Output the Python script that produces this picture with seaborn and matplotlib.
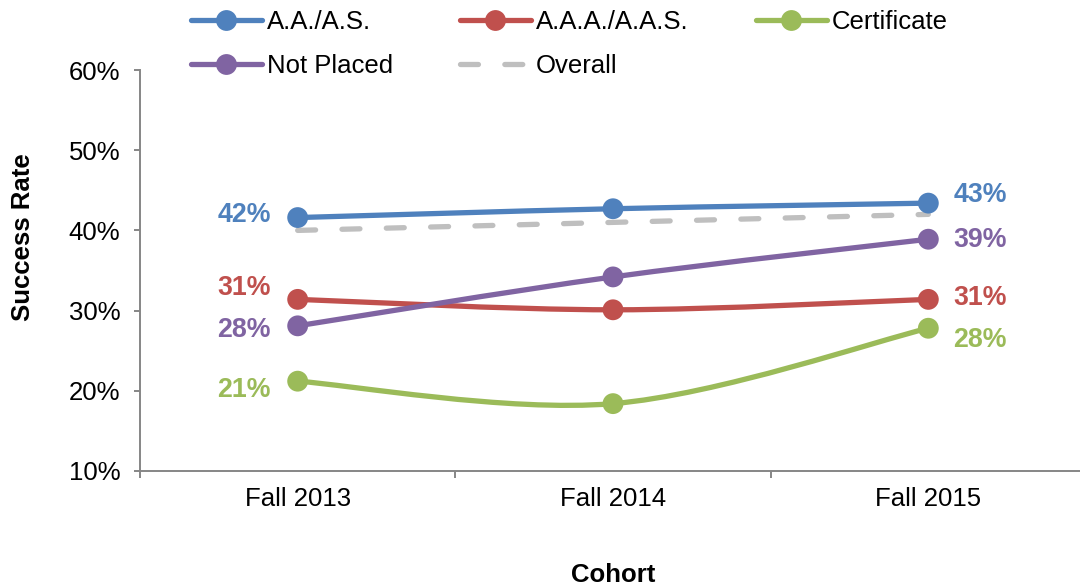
import numpy as np
import pandas as pd
import matplotlib
matplotlib.use("Agg")
import matplotlib.pyplot as plt
import seaborn as sns
from matplotlib.path import Path
from matplotlib.patches import PathPatch
from matplotlib.lines import Line2D

# ---------------- data ----------------
cohorts = ["Fall 2013", "Fall 2014", "Fall 2015"]
aa_as = [0.416, 0.427, 0.434]
aaa_aas = [0.314, 0.301, 0.314]
certificate = [0.212, 0.184, 0.278]
not_placed = [0.281, 0.342, 0.389]
overall = [0.400, 0.410, 0.420]
series_names = ["A.A./A.S.", "A.A.A./A.A.S.", "Certificate", "Not Placed", "Overall"]
y_ticks = [0.1, 0.2, 0.3, 0.4, 0.5, 0.6]

values = dict(zip(series_names, [aa_as, aaa_aas, certificate, not_placed, overall]))
df = pd.DataFrame(
    [(s, c, v) for s in series_names for c, v in zip(cohorts, values[s])],
    columns=["Series", "Cohort", "Rate"],
)

# ---------------- style ----------------
colors = {
    "A.A./A.S.": "#4F81BD",
    "A.A.A./A.A.S.": "#C0504D",
    "Certificate": "#9BBB59",
    "Not Placed": "#8064A2",
    "Overall": "#BFBFBF",
}
# label offsets in pixels (dy) for first / last point
left_dy = {"A.A./A.S.": 3, "A.A.A./A.A.S.": 11, "Certificate": -9, "Not Placed": -4}
right_dy = {"A.A./A.S.": 8, "A.A.A./A.A.S.": 1, "Certificate": -12, "Not Placed": -1}

sns.set_theme(style="white")
plt.rcParams["font.family"] = ["Liberation Sans", "DejaVu Sans"]
plt.rcParams["text.color"] = "black"
plt.rcParams["axes.labelcolor"] = "black"
FS = 18.5
LW = 3.8
MS = 15
SPINE = "#868686"
DASH = (0, (3.4, 5.0))

fig = plt.figure(figsize=(10.8, 5.86), dpi=100)
ax = fig.add_axes([140 / 1080, 1 - 471 / 586, 946 / 1080, 401 / 586])

# markers via seaborn
marker_df = df[df["Series"] != "Overall"]
sns.scatterplot(data=marker_df, x="Cohort", y="Rate", hue="Series", palette=colors,
                s=MS ** 2, edgecolor="none", legend=False, ax=ax, zorder=5)


def smooth_path(ys):
    """Excel-like smoothed line as cubic Bezier segments through the data."""
    xs = np.arange(len(ys), dtype=float)
    pts = np.column_stack([xs, np.asarray(ys, dtype=float)])
    verts = [pts[0]]
    codes = [Path.MOVETO]
    n = len(pts)
    for i in range(n - 1):
        p0 = pts[i - 1] if i > 0 else pts[i]
        p1 = pts[i]
        p2 = pts[i + 1]
        p3 = pts[i + 2] if i + 2 < n else pts[i + 1]
        c1 = p1 + (p2 - p0) / 6.0
        c2 = p2 - (p3 - p1) / 6.0
        verts += [c1, c2, p2]
        codes += [Path.CURVE4] * 3
    return Path(verts, codes)


for name in series_names:
    if name == "Overall":
        patch = PathPatch(smooth_path(values[name]), facecolor="none", edgecolor=colors[name],
                          lw=LW, linestyle=DASH, capstyle="round", zorder=2)
    else:
        patch = PathPatch(smooth_path(values[name]), facecolor="none", edgecolor=colors[name],
                          lw=LW, capstyle="round", joinstyle="round", zorder=3)
    ax.add_patch(patch)

# data labels
for name in series_names:
    if name == "Overall":
        continue
    v = values[name]
    ax.annotate(f"{v[0]:.0%}", xy=(0, v[0]), xytext=(-27 * 0.72, left_dy[name] * 0.72),
                textcoords="offset points", ha="right", va="center", fontsize=FS + 0.8,
                fontweight="bold", color=colors[name], zorder=6)
    ax.annotate(f"{v[-1]:.0%}", xy=(len(v) - 1, v[-1]), xytext=(25 * 0.72, right_dy[name] * 0.72),
                textcoords="offset points", ha="left", va="center", fontsize=FS + 0.8,
                fontweight="bold", color=colors[name], zorder=6)

# axes
ax.set_xlim(-0.5, len(cohorts) - 0.5)
ax.set_ylim(y_ticks[0], y_ticks[-1])
ax.set_yticks(y_ticks)
ax.set_yticklabels([f"{t:.0%}" for t in y_ticks])
ax.set_xticks(range(len(cohorts)))
ax.set_xticklabels(cohorts)
ax.set_xticks(np.arange(-0.5, len(cohorts), 1.0), minor=True)
ax.tick_params(axis="x", which="major", length=0, pad=11.5, labelsize=FS, colors="black")
ax.tick_params(axis="x", which="minor", length=5, width=1.4, color=SPINE, direction="out", bottom=True)
ax.tick_params(axis="y", which="major", length=4.3, width=1.4, color=SPINE, direction="out",
               left=True, pad=10, labelsize=FS, labelcolor="black")
for s in ["top", "right"]:
    ax.spines[s].set_visible(False)
for s in ["left", "bottom"]:
    ax.spines[s].set_color(SPINE)
    ax.spines[s].set_linewidth(1.4)
ax.grid(False)

ax.set_xlabel("Cohort", fontsize=FS, fontweight="bold", color="black")
ax.set_ylabel("Success Rate", fontsize=FS, fontweight="bold", color="black")
ax.xaxis.set_label_coords(0.5, -0.230)
ax.yaxis.set_label_coords(-0.111, 0.584)


# legend (column-major order to get row-wise layout)
def handle(name):
    if name == "Overall":
        return Line2D([], [], color=colors[name], lw=LW, linestyle=DASH,
                      dash_capstyle="round")
    return Line2D([], [], color=colors[name], lw=LW, marker="o", markersize=MS,
                  markeredgewidth=0, solid_capstyle="round")


order = ["A.A./A.S.", "Not Placed", "A.A.A./A.A.S.", "Overall", "Certificate"]
leg = fig.legend([handle(n) for n in order], order, loc="upper left",
                 bbox_to_anchor=(188 / 1080, 0.988), ncol=3, frameon=False, fontsize=FS,
                 handlelength=2.77, handletextpad=0.2, columnspacing=2.6, labelspacing=0.8,
                 borderpad=0.1, borderaxespad=0, numpoints=1)
for t in leg.get_texts():
    t.set_color("black")

fig.savefig("out.png", dpi=100)
